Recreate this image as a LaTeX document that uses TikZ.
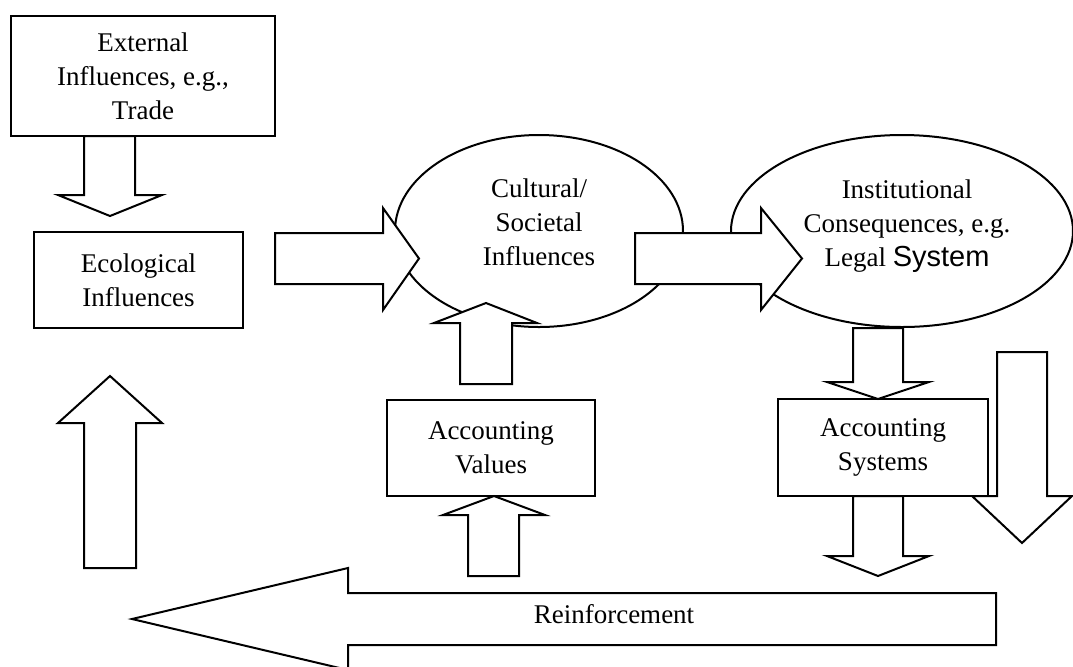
\documentclass[tikz,border=0pt]{standalone}
\usepackage{fontspec}
\setmainfont{Liberation Serif}
\newfontfamily\arialfont{Liberation Sans}
\usetikzlibrary{shapes.geometric}
\newcommand\txtfont{\fontsize{13.5}{17}\selectfont}
\begin{document}
\begin{tikzpicture}[x=0.5pt,y=-0.5pt, line width=1pt,
  box/.style={draw, rectangle, inner sep=0pt, align=center, font=\txtfont},
  oval/.style={draw, ellipse, inner sep=0pt},
  lbl/.style={inner sep=0pt, align=center, font=\txtfont},
  barrow/.style={draw, fill=white, line join=miter}]
\useasboundingbox (0,0) rectangle (1073,666);
\clip (0,0) rectangle (1073,666);
% boxes and ovals
\node[box, minimum width=132pt, minimum height=60pt] (ext) at (143,76) {External\\Influences, e.g.,\\Trade};
\node[box, minimum width=104.5pt, minimum height=48pt] (eco) at (138.5,280) {Ecological\\Influences};
\node[box, minimum width=104pt, minimum height=48pt] (val) at (491,448) {Accounting\\Values};
\node[box, minimum width=105pt, minimum height=48.5pt] (sys) at (883,447.5) {Accounting\\Systems};
\node[oval, minimum width=144pt, minimum height=96pt] (cult) at (539,231) {};
\node[oval, minimum width=171pt, minimum height=96pt] (inst) at (902,231) {};
% block arrows
\draw[barrow] (84,136) -- (135,136) -- (135,195) -- (162,195) -- (110,216) -- (58,195) -- (84,195) -- cycle;
\draw[barrow] (275,233) -- (383,233) -- (383,208) -- (419,258.5) -- (383,310) -- (383,284) -- (275,284) -- cycle;
\draw[barrow] (635,233) -- (761,233) -- (761,208) -- (802,258.5) -- (761,310) -- (761,284) -- (635,284) -- cycle;
\draw[barrow] (460,384) -- (460,323) -- (434,323) -- (486,303) -- (537,323) -- (512,323) -- (512,384) -- cycle;
\draw[barrow] (468,576) -- (468,515) -- (443,515) -- (494,496) -- (545,515) -- (519,515) -- (519,576) -- cycle;
\draw[barrow] (84,568) -- (84,423) -- (58,423) -- (110,376) -- (162,423) -- (136,423) -- (136,568) -- cycle;
\draw[barrow] (853,328) -- (903,328) -- (903,382) -- (929,382) -- (878,399) -- (827,382) -- (853,382) -- cycle;
\draw[barrow] (853,496) -- (903,496) -- (903,556) -- (929,556) -- (878,576) -- (827,556) -- (853,556) -- cycle;
\draw[barrow] (997,352) -- (1047,352) -- (1047,496) -- (1072,496) -- (1022,543) -- (972,496) -- (997,496) -- cycle;
\draw[barrow] (996,593) -- (996,645) -- (348,645) -- (348,670) -- (132,619) -- (348,568) -- (348,593) -- cycle;
% texts
\node[lbl] (cultT) at (539,222) {Cultural/\\Societal\\Influences};
\node[lbl] (instT) at (907,226) {Institutional\\Consequences, e.g.\\Legal {\arialfont\fontsize{14.5}{19}\selectfont System}};
\node[lbl, anchor=base] (reinf) at (614,623) {Reinforcement};
\end{tikzpicture}
\end{document}
